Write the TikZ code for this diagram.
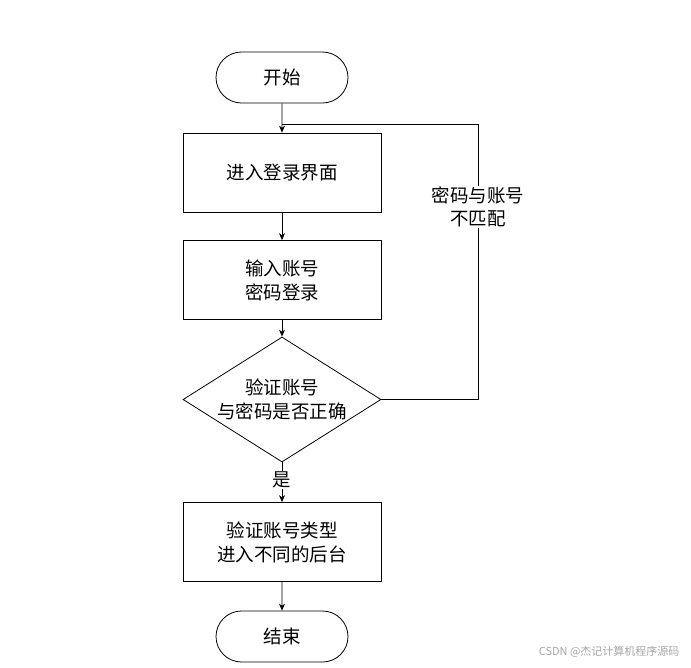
\documentclass[tikz,border=0pt]{standalone}
\usepackage{fontspec}
\setmainfont{Noto Sans CJK SC}
\usetikzlibrary{shapes.geometric,shapes.misc,arrows.meta}
\begin{document}
\begin{tikzpicture}[x=1pt,y=-1pt,
  base/.style={draw=black,line width=0.8pt,font=\fontsize{18.5}{24}\selectfont,align=center,inner sep=0pt},
  term/.style={base,rounded rectangle,minimum width=132pt,minimum height=51pt},
  proc/.style={base,rectangle,minimum width=198pt,minimum height=79pt},
  dec/.style={base,diamond,minimum width=198pt,minimum height=125pt,aspect=1.58},
  conn/.style={line width=0.8pt,-{Stealth[length=7pt,width=6pt]}},
  lbl/.style={font=\fontsize{18.5}{23}\selectfont,align=center,fill=white,inner sep=1pt}]
\useasboundingbox (0,0) rectangle (691,667);
\node[term] (start) at (282,77.5) {开始};
\node[proc] (p1) at (282,172.5) {进入登录界面};
\node[proc] (p2) at (282,280) {输入账号\\密码登录};
\node[dec] (d) at (282,399.5) {验证账号\\与密码是否正确};
\node[proc] (p3) at (282,542) {验证账号类型\\进入不同的后台};
\node[term] (end) at (282,636.5) {结束};
\coordinate (j) at (282,124);
\coordinate (r1) at (478,399.5);
\coordinate (r2) at (478,124);
\draw[conn] (start) -- (p1);
\draw[conn] (p1) -- (p2);
\draw[conn] (p2) -- (d);
\draw[conn] (d) -- node[lbl,pos=0.45] (yes) {是} (p3);
\draw[conn] (p3) -- (end);
\draw[line width=0.8pt] (d.east) -- (r1) -- node[lbl,pos=0.70] (nomatch) {密码与账号\\不匹配} (r2) -- (j);
\node[font=\fontsize{11}{13}\selectfont,text=black!35,anchor=east] (wm) at (683,652) {CSDN @杰记计算机程序源码};
\end{tikzpicture}
\end{document}
